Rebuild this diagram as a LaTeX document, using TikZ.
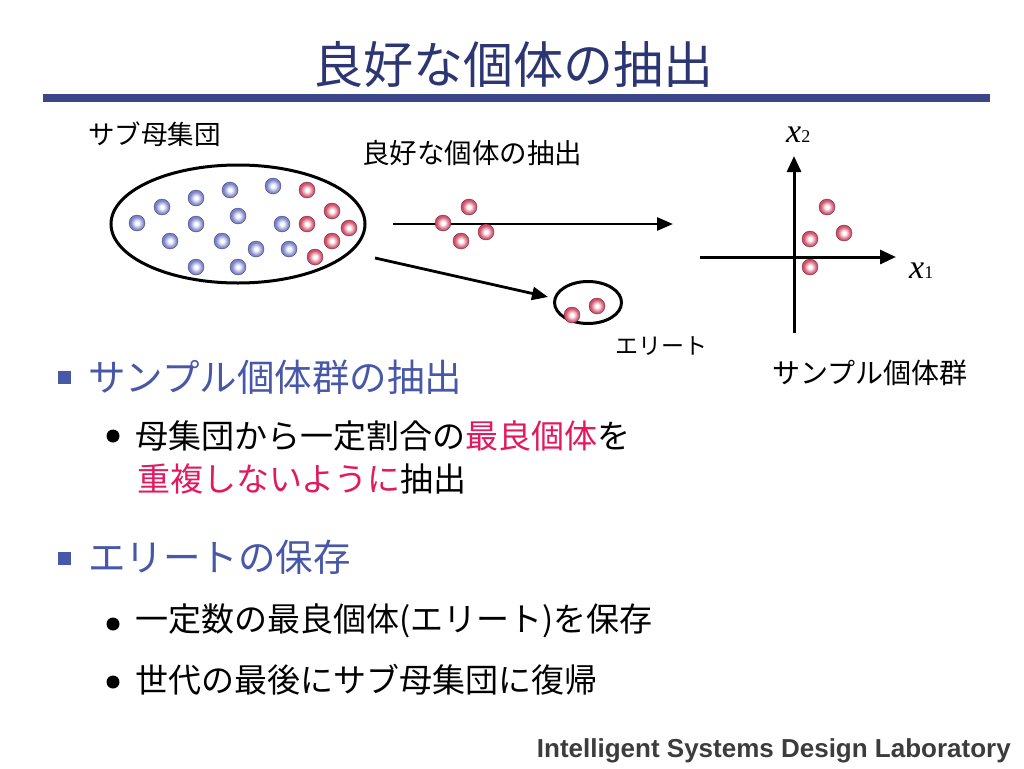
\documentclass[tikz,border=0pt]{standalone}
\usepackage{fontspec}
\setmainfont{Liberation Sans}
\newfontfamily\jp{Noto Sans CJK JP}
\newfontfamily\tms{Liberation Serif}
\usetikzlibrary{arrows.meta,shapes.geometric}
\definecolor{titlecol}{HTML}{2B3673}
\definecolor{barcol}{HTML}{3A4889}
\definecolor{lvlone}{HTML}{4858A8}
\definecolor{pinkc}{HTML}{E2195E}
\definecolor{ballblue}{HTML}{5E68BC}
\definecolor{ballred}{HTML}{C42E4C}
\definecolor{footc}{HTML}{3C3C3C}
\pgfdeclareradialshading{blueshade}{\pgfpoint{0bp}{0bp}}{color(0bp)=(white); color(5bp)=(white); color(20bp)=(ballblue!80!white); color(34bp)=(ballblue); color(44bp)=(ballblue!85!black); color(50bp)=(ballblue!60!black)}
\pgfdeclareradialshading{redshade}{\pgfpoint{0bp}{0bp}}{color(0bp)=(white); color(5bp)=(white); color(20bp)=(ballred!80!white); color(34bp)=(ballred); color(44bp)=(ballred!85!black); color(50bp)=(ballred!60!black)}
\tikzset{
  bb/.style={circle, minimum size=16pt, inner sep=0pt, shading=blueshade, draw=ballblue!55!black, line width=0.3pt},
  rb/.style={circle, minimum size=16pt, inner sep=0pt, shading=redshade, draw=ballred!55!black, line width=0.3pt},
  lbl/.style={inner sep=0pt, anchor=west},
  lvla/.style={inner sep=0pt, font=\jp\fontsize{37.5}{37.5}\selectfont, text=lvlone, anchor=west},
  lvlb/.style={inner sep=0pt, font=\jp\fontsize{33}{33}\selectfont, text=black, anchor=west},
  sqb/.style={fill=lvlone, minimum size=13pt, inner sep=0pt},
  dotb/.style={circle, fill=black, minimum size=13pt, inner sep=0pt},
  arr/.style={line width=2.8pt, -{Triangle[length=16pt,width=13pt]}},
  axis/.style={line width=3pt, -{Triangle[length=16pt,width=14pt]}},
  encl/.style={draw, ellipse, line width=3pt, inner sep=0pt}
}
\begin{document}
\begin{tikzpicture}[x=1pt,y=-1pt]
\useasboundingbox (0,0) rectangle (1024,768);
\fill[white] (0,0) rectangle (1024,768);
% title
\node[inner sep=0pt, font=\jp\fontsize{50}{50}\selectfont, text=titlecol] (title) at (513,64) {良好な個体の抽出};
\fill[barcol] (43,94) rectangle (990,102);
% sub-population
\node[lbl, font=\jp\fontsize{26.5}{26.5}\selectfont] (sublbl) at (88,134) {サブ母集団};
\node[encl, minimum width=254pt, minimum height=118pt] (pop) at (238,224) {};
\foreach \i/\x/\y in {1/137/223,2/162/207,3/196/198,4/230/190,5/273/186,6/196/224,7/238/216,8/170/241,9/222/241,10/282/224,11/256/249,12/289/249,13/196/267,14/238/267}
  \node[bb] (b\i) at (\x,\y) {};
\foreach \i/\x/\y in {1/307/190,2/332/211,3/307/224,4/349/228,5/332/241,6/315/257}
  \node[rb] (r\i) at (\x,\y) {};
% extraction arrow
\node[lbl, font=\jp\fontsize{27.5}{27.5}\selectfont] (extlbl) at (362,153) {良好な個体の抽出};
\coordinate (a1s) at (393,224);
\coordinate (a1e) at (673,224);
\draw[arr] (a1s) -- (a1e);
\node[rb] (s1) at (443,223) {};
\node[rb] (s2) at (469,207) {};
\node[rb] (s3) at (461,241) {};
\node[rb] (s4) at (486,232) {};
% elite
\coordinate (a2s) at (375,258);
\coordinate (a2e) at (548,297);
\draw[arr] (a2s) -- (a2e);
\node[encl, minimum width=67pt, minimum height=42pt] (elite) at (588,302.5) {};
\node[rb] (e1) at (572,315) {};
\node[rb] (e2) at (597,306) {};
\node[lbl, font=\jp\fontsize{23}{23}\selectfont] (elitelbl) at (615,346) {エリート};
% axes
\coordinate (hxs) at (700,257);
\coordinate (hxe) at (896,257);
\coordinate (vys) at (794,333);
\coordinate (vye) at (794,156);
\draw[axis] (hxs) -- (hxe);
\draw[axis] (vys) -- (vye);
\node[inner sep=0pt, anchor=base west] (x2lbl) at (786,142) {\tms\itshape\fontsize{34}{34}\selectfont x\upshape\fontsize{18}{18}\selectfont 2};
\node[inner sep=0pt, anchor=base west] (x1lbl) at (909,278) {\tms\itshape\fontsize{34}{34}\selectfont x\upshape\fontsize{18}{18}\selectfont 1};
\node[rb] (p1) at (827,207) {};
\node[rb] (p2) at (844,233) {};
\node[rb] (p3) at (810,239) {};
\node[rb] (p4) at (810,267) {};
\node[lbl, font=\jp\fontsize{28}{28}\selectfont] (samplbl) at (772,373) {サンプル個体群};
% bullets
\node[sqb] (sq1) at (64.5,377) {};
\node[lvla] (h1) at (88,377) {サンプル個体群の抽出};
\node[dotb] (d1) at (113,436) {};
\node[lvlb] (t1) at (135,436) {母集団から一定割合の\textcolor{pinkc}{最良個体}を};
\node[lvlb] (t2) at (137,479) {\textcolor{pinkc}{重複しないように}抽出};
\node[sqb] (sq2) at (64.5,558.5) {};
\node[lvla] (h2) at (88,557) {エリートの保存};
\node[dotb] (d2) at (113,624) {};
\node[lvlb] (t3) at (135,621) {一定数の最良個体(エリート)を保存};
\node[dotb] (d3) at (113,682) {};
\node[lvlb] (t4) at (135,680) {世代の最後にサブ母集団に復帰};
% footer
\node[inner sep=0pt, anchor=base east, text=footc, font=\bfseries\fontsize{26}{26}\selectfont] (foot) at (1011,757) {Intelligent Systems Design Laboratory};
\end{tikzpicture}
\end{document}
